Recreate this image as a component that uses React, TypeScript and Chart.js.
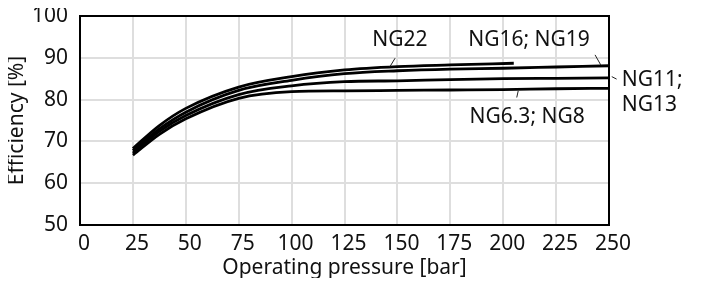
import React, { useEffect, useRef } from 'react';
import { Chart, registerables } from 'chart.js';

Chart.register(...registerables);

// Operating pressure [bar]
const pressure = [25, 37.5, 50, 75, 100, 125, 150, 175, 200, 225, 250];
const pressureNG22 = [25, 37.5, 50, 75, 100, 125, 150, 175, 205];

// Efficiency [%]
const effNG22 = [68.3, 73.8, 77.9, 83.0, 85.5, 87.1, 87.9, 88.3, 88.7];
const effNG16_19 = [67.8, 73.0, 77.0, 82.2, 84.6, 86.2, 86.9, 87.3, 87.5, 87.8, 88.1];
const effNG11_13 = [67.2, 72.4, 76.2, 81.2, 83.3, 84.3, 84.5, 84.8, 85.0, 85.1, 85.2];
const effNG6_8 = [66.7, 71.7, 75.4, 80.3, 81.9, 82.1, 82.2, 82.3, 82.4, 82.6, 82.7];

const seriesNames = ['NG22', 'NG16; NG19', 'NG11; NG13', 'NG6.3; NG8'];

// Curve labels (data coordinates)
const labelTexts = ['NG22', 'NG16; NG19', 'NG11;', 'NG13', 'NG6.3; NG8'];
const labelX = [151.2, 212.2, 256.0, 256.0, 211.3];
const labelY = [94.3, 94.3, 84.7, 78.7, 75.9];
const labelAlign: CanvasTextAlign[] = ['center', 'center', 'left', 'left', 'center'];

// Leader lines: [x1, y1, x2, y2]
const leaders = [
  [148.9, 89.9, 146.5, 87.9],
  [243.4, 90.7, 246.1, 88.3],
  [251.3, 85.5, 253.6, 84.9],
  [207.1, 82.1, 206.4, 80.5],
];

const FONT = '"Noto Sans", sans-serif';
const TEXT = '#111';
const W = 701;
const H = 286;

const toPoints = (xs: number[], ys: number[]) => ys.map((v, i) => ({ x: xs[i], y: v }));

const annotationPlugin = {
  id: 'curveLabels',
  afterDatasetsDraw(chart: any) {
    const { ctx, chartArea, scales } = chart;
    const xs = scales.x;
    const ys = scales.y;
    ctx.save();
    ctx.strokeStyle = '#000';
    ctx.lineWidth = 2;
    ctx.strokeRect(chartArea.left, chartArea.top, chartArea.right - chartArea.left, chartArea.bottom - chartArea.top);
    ctx.lineWidth = 1;
    ctx.strokeStyle = '#222';
    leaders.forEach((l) => {
      ctx.beginPath();
      ctx.moveTo(xs.getPixelForValue(l[0]), ys.getPixelForValue(l[1]));
      ctx.lineTo(xs.getPixelForValue(l[2]), ys.getPixelForValue(l[3]));
      ctx.stroke();
    });
    ctx.font = `21px ${FONT}`;
    ctx.fillStyle = TEXT;
    ctx.textBaseline = 'middle';
    labelTexts.forEach((t, i) => {
      ctx.textAlign = labelAlign[i];
      ctx.fillText(t, xs.getPixelForValue(labelX[i]), ys.getPixelForValue(labelY[i]));
    });
    ctx.restore();
  },
};

export default function App() {
  const canvasRef = useRef<HTMLCanvasElement | null>(null);

  useEffect(() => {
    if (!canvasRef.current) return;
    const series = [
      toPoints(pressureNG22, effNG22),
      toPoints(pressure, effNG16_19),
      toPoints(pressure, effNG11_13),
      toPoints(pressure, effNG6_8),
    ];
    const chart = new Chart(canvasRef.current, {
      type: 'line',
      data: {
        datasets: series.map((d, i) => ({
          label: seriesNames[i],
          data: d,
          borderColor: '#000',
          borderWidth: 2.8,
          pointRadius: 0,
          fill: false,
          cubicInterpolationMode: 'monotone' as const,
        })),
      },
      options: {
        animation: false,
        responsive: false,
        layout: { padding: { top: 16, right: 92, left: 0, bottom: 0 } },
        plugins: { legend: { display: false }, tooltip: { enabled: false } },
        scales: {
          x: {
            type: 'linear',
            min: 0,
            max: 250,
            border: { display: false },
            grid: { color: '#dedede', lineWidth: 2, drawTicks: false },
            ticks: {
              stepSize: 25,
              padding: 9,
              labelOffset: 4,
              maxRotation: 0,
              color: TEXT,
              font: { family: FONT, size: 21, lineHeight: 1 },
            },
            title: {
              display: true,
              text: 'Operating pressure [bar]',
              color: TEXT,
              font: { family: FONT, size: 21, lineHeight: 1 },
              padding: { top: 0, bottom: 7.5 },
            },
            afterFit: (scale: any) => {
              scale.height = 61;
              scale.paddingLeft = 0;
              scale.paddingRight = 0;
            },
          },
          y: {
            min: 50,
            max: 100,
            border: { display: false },
            grid: { color: '#dedede', lineWidth: 2, drawTicks: false },
            ticks: {
              stepSize: 10,
              padding: 12,
              color: TEXT,
              font: { family: FONT, size: 21, lineHeight: 1 },
            },
            title: {
              display: true,
              text: 'Efficiency [%]',
              color: TEXT,
              font: { family: FONT, size: 21, lineHeight: 1 },
              padding: { top: 7, bottom: 0 },
            },
            afterFit: (scale: any) => {
              scale.width = 80;
              scale.paddingTop = 0;
              scale.paddingBottom = 0;
            },
          },
        },
      },
      plugins: [annotationPlugin],
    });
    return () => chart.destroy();
  }, []);

  return (
    <div style={{ position: 'relative', width: W - 16, height: H - 16 }}>
      <canvas
        ref={canvasRef}
        width={W}
        height={H}
        style={{ position: 'absolute', left: -8, top: -8, display: 'block' }}
      />
    </div>
  );
}
